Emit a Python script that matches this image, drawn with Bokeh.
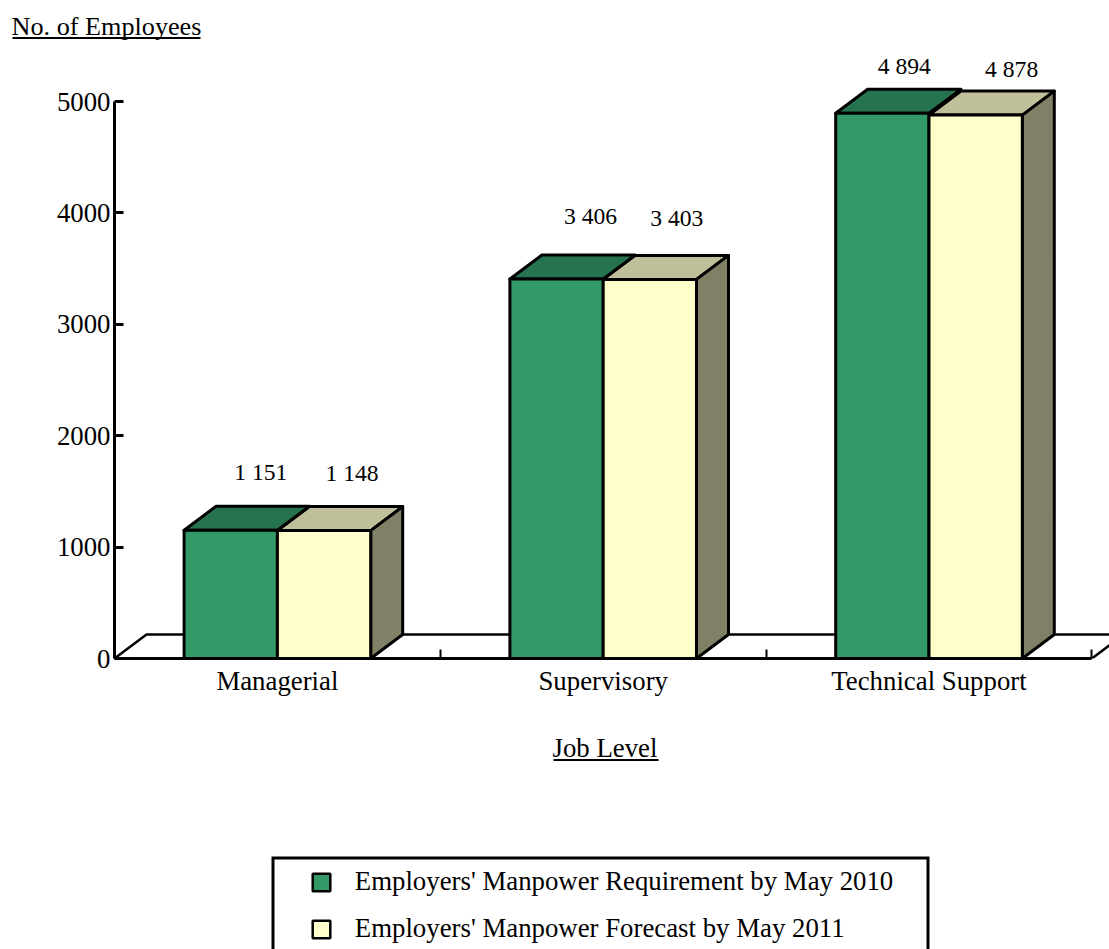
from bokeh.embed import file_html
from bokeh.resources import INLINE
from bokeh.plotting import figure
from bokeh.layouts import column
from bokeh.models import Range1d, FixedTicker, LinearAxis, Legend, LegendItem, ColumnDataSource
from bokeh.core.properties import value

# ---- data ----
categories = ["Managerial", "Supervisory", "Technical Support"]
requirement_2010 = [1151, 3406, 4894]
forecast_2011 = [1148, 3403, 4878]
requirement_labels = ["1 151", "3 406", "4 894"]
forecast_labels = ["1 148", "3 403", "4 878"]
y_ticks = [0, 1000, 2000, 3000, 4000, 5000]
series_names = ["Employers' Manpower Requirement by May 2010", "Employers' Manpower Forecast by May 2011"]
y_title = "No. of Employees"
x_title = "Job Level"

# ---- style ----
FONT = "Liberation Serif"
TXT = "26.8px"
GREEN, GREEN_TOP = "#339966", "#267350"
YELLOW, YELLOW_TOP, YELLOW_SIDE = "#FFFFCC", "#BFBF99", "#808066"
LW = 3
W = 1109
TOP_H, MAIN_BOTTOM, PAGE_H = 42, 715, 949
AXIS_Y = 658
PX_PER_UNIT = 0.1114       # vertical scale
BORDER_L = 114
CAT_PX = 325.8
BAR_W = 93.3 / CAT_PX
DX, DY = 32 / CAT_PX, 24 / PX_PER_UNIT   # 3D depth in data units


def page_fig(y0, y1):
    """A strip of the page whose data coordinates are page pixels."""
    f = figure(width=W, height=y1 - y0, output_backend="svg", toolbar_location=None,
               x_range=Range1d(0, W), y_range=Range1d(y1, y0), frame_align=False,
               min_border=0, x_axis_type=None, y_axis_type=None)
    f.grid.visible = False
    f.outline_line_color = None
    return f


def caption(f, x, y, txt, size=TXT):
    f.text([x], [y], text=[txt], text_font=value(FONT), text_font_size=size, text_baseline="middle",
           text_align="center", text_color="black")


# ---- top strip: y axis title ----
head = page_fig(0, TOP_H)
caption(head, 106, 26, y_title, "26.2px")
head.segment([12], [37.5], [200], [37.5], line_color="black", line_width=2)

# ---- main chart ----
p = figure(width=W, height=MAIN_BOTTOM - TOP_H, output_backend="svg", toolbar_location=None,
           x_range=Range1d(0, (W - BORDER_L) / CAT_PX),
           y_range=Range1d(0, (AXIS_Y - TOP_H) / PX_PER_UNIT), frame_align=False,
           min_border_left=BORDER_L, min_border_right=0, min_border_top=0,
           min_border_bottom=MAIN_BOTTOM - AXIS_Y,
           x_axis_type=None, y_axis_type=None)
p.grid.visible = False
p.outline_line_color = None

centers = [i + 0.5 for i in range(len(categories))]
n = len(categories)

# floor
p.patch([0, DX, n + DX, n], [0, DY, DY, 0], fill_color="white", line_color="black", line_width=2.5)


def face(xs, ys, color):
    p.patches(xs, ys, fill_color=color, line_color="black", line_width=LW, line_join="round")


face([[c, c + BAR_W, c + BAR_W + DX, c + DX] for c in centers],
     [[v, v, v + DY, v + DY] for v in forecast_2011], YELLOW_TOP)
face([[c - BAR_W, c, c + DX, c - BAR_W + DX] for c in centers],
     [[v, v, v + DY, v + DY] for v in requirement_2010], GREEN_TOP)
face([[c + BAR_W, c + BAR_W + DX, c + BAR_W + DX, c + BAR_W] for c in centers],
     [[0, DY, v + DY, v] for v in forecast_2011], YELLOW_SIDE)
p.vbar(x=[c - BAR_W / 2 for c in centers], top=requirement_2010, width=BAR_W, bottom=0,
       fill_color=GREEN, line_color="black", line_width=LW, line_join="round")
p.vbar(x=[c + BAR_W / 2 for c in centers], top=forecast_2011, width=BAR_W, bottom=0,
       fill_color=YELLOW, line_color="black", line_width=LW, line_join="round")

# value labels
lab = ColumnDataSource(dict(
    x=[c - BAR_W / 2 for c in centers] + [c + BAR_W / 2 for c in centers],
    y=requirement_2010 + forecast_2011,
    t=requirement_labels + forecast_labels,
    xo=[30, 34, 22, 28, 27, 36],
    yo=[-58, -62.6, -47, -58, -61, -45.6],
))
p.text("x", "y", text="t", x_offset="xo", y_offset="yo", source=lab, text_align="center",
       text_baseline="middle", text_font=value(FONT), text_font_size="23.6px", text_color="black")

# axes
yax = LinearAxis(ticker=FixedTicker(ticks=y_ticks), bounds=(0, 5000))
yax.axis_line_width = LW
yax.major_tick_line_width = LW
yax.major_tick_in = 9
yax.major_tick_out = 0
yax.minor_tick_line_color = None
yax.major_label_standoff = 4
yax.major_label_text_font = FONT
yax.major_label_text_font_size = TXT
yax.major_label_text_color = "black"
p.add_layout(yax, "left")

xax = LinearAxis(ticker=FixedTicker(ticks=centers, minor_ticks=list(range(1, n + 1))), bounds=(0, n))
xax.major_label_overrides = {c: t for c, t in zip(centers, categories)}
xax.axis_line_width = LW
xax.major_tick_line_color = None
xax.major_tick_in = 0
xax.major_tick_out = 0
xax.minor_tick_line_width = 2
xax.minor_tick_in = 9
xax.minor_tick_out = 0
xax.major_label_standoff = 7
xax.major_label_text_font = FONT
xax.major_label_text_font_size = TXT
xax.major_label_text_color = "black"
p.add_layout(xax, "below")

# ---- bottom strip: x axis title and legend ----
foot = page_fig(MAIN_BOTTOM, PAGE_H)
caption(foot, 604.5, 747.5, x_title)
foot.segment([553], [759.5], [658], [759.5], line_color="black", line_width=2)
# legend keys: each key's renderer sits hidden under the white legend box and only feeds the legend
key_req = foot.vbar(x=[600], top=[900], bottom=[901], width=1, fill_color=GREEN, line_color="black", line_width=2.5)
key_fc = foot.vbar(x=[600], top=[900], bottom=[901], width=1, fill_color=YELLOW, line_color="black", line_width=2.5)
foot.quad(left=[272.5], right=[927.5], top=[857.5], bottom=[975], fill_color="white", line_color="black",
          line_width=3, line_join="miter")
legend = Legend(items=[LegendItem(label=series_names[0], renderers=[key_req]),
                       LegendItem(label=series_names[1], renderers=[key_fc])],
                location=(309.8, PAGE_H - 944), padding=0, margin=0, spacing=16, glyph_width=22, glyph_height=22,
                label_height=22, label_standoff=23, border_line_color=None, background_fill_alpha=0,
                label_text_font=FONT, label_text_font_size=TXT, label_text_color="black")
foot.add_layout(legend, "center")

page = column(head, p, foot, spacing=0)
open("out.html", "w").write(file_html(page, INLINE))
